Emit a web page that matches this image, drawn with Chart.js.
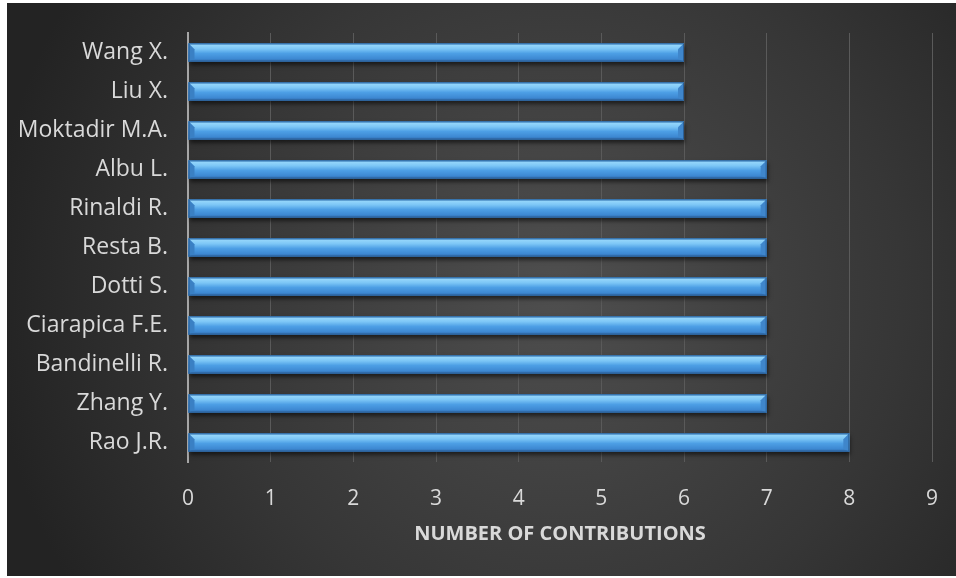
<!DOCTYPE html>
<html>
<head>
<meta charset="utf-8">
<script src="https://cdn.jsdelivr.net/npm/chart.js@4/dist/chart.umd.min.js"></script>
<style>
    html, body { margin: 0; padding: 0; background: #ffffff; }
    #wrap { position: absolute; left: 7px; top: 3px; width: 949px; height: 573px; }
</style>
</head>
<body>
<div id="wrap"><canvas id="authorsChart"></canvas></div>
<script>
    // data
    const authors = ['Wang X.', 'Liu X.', 'Moktadir M.A.', 'Albu L.', 'Rinaldi R.', 'Resta B.',
                     'Dotti S.', 'Ciarapica F.E.', 'Bandinelli R.', 'Zhang Y.', 'Rao J.R.'];
    const contributions = [6, 6, 6, 7, 7, 7, 7, 7, 7, 7, 8];
    const xTicks = [0, 1, 2, 3, 4, 5, 6, 7, 8, 9];
    const xTitle = 'NUMBER OF CONTRIBUTIONS';

    const textColor = '#d9d9d9';
    const fontFamily = '"Open Sans", Lato, sans-serif';

    // dark radial background
    const backgroundPlugin = {
        id: 'darkBg',
        beforeDraw(chart) {
            const { ctx, width, height } = chart;
            const g = ctx.createRadialGradient(width * 0.58, height * 0.5, 10, width * 0.58, height * 0.5, width * 0.6);
            g.addColorStop(0, '#4e4e4e');
            g.addColorStop(0.6, '#363636');
            g.addColorStop(1, '#232323');
            ctx.save();
            ctx.fillStyle = g;
            ctx.fillRect(0, 0, width, height);
            ctx.restore();
        }
    };

    // shadow under bars + bevel faces on top
    const bevelPlugin = {
        id: 'bevel',
        beforeDatasetsDraw(chart) {
            const ctx = chart.ctx;
            ctx.save();
            ctx.shadowColor = 'rgba(0,0,0,0.55)';
            ctx.shadowBlur = 4;
            ctx.shadowOffsetX = 1;
            ctx.shadowOffsetY = 3;
        },
        afterDatasetsDraw(chart) {
            const ctx = chart.ctx;
            ctx.restore();
            const meta = chart.getDatasetMeta(0);
            meta.data.forEach(bar => {
                const x0 = bar.base, x1 = bar.x;
                const top = bar.y - bar.height / 2, bot = bar.y + bar.height / 2;
                const b = 6;
                const h = bot - top;
                ctx.save();
                // body
                const g = ctx.createLinearGradient(0, top, 0, bot);
                g.addColorStop(0, '#5aa9e6');
                g.addColorStop(0.12, '#92d4fa');
                g.addColorStop(0.3, '#7cc6f6');
                g.addColorStop(0.55, '#4d9fe5');
                g.addColorStop(0.85, '#3d88d2');
                g.addColorStop(1, '#2d64a0');
                ctx.fillStyle = g;
                ctx.fillRect(x0, top, x1 - x0, h);
                // left face
                ctx.fillStyle = '#3a80c4';
                ctx.beginPath();
                ctx.moveTo(x0, top); ctx.lineTo(x0 + b, top + b); ctx.lineTo(x0 + b, bot - 3); ctx.lineTo(x0, bot);
                ctx.closePath(); ctx.fill();
                // right face
                ctx.fillStyle = '#3f86cb';
                ctx.beginPath();
                ctx.moveTo(x1, top); ctx.lineTo(x1 - b, top + b); ctx.lineTo(x1 - b, bot - 3); ctx.lineTo(x1, bot);
                ctx.closePath(); ctx.fill();
                // outline
                ctx.strokeStyle = '#2b5f95';
                ctx.lineWidth = 1;
                ctx.strokeRect(x0 + 0.5, top + 0.5, x1 - x0 - 1, h - 1);
                ctx.restore();
            });
        }
    };

    const ctx = document.getElementById('authorsChart').getContext('2d');
    const authorsChart = new Chart(ctx, {
        type: 'bar',
        data: {
            labels: authors,
            datasets: [{
                data: contributions,
                backgroundColor: '#4d9fe5',
                borderWidth: 0,
                categoryPercentage: 1,
                barPercentage: 0.47
            }]
        },
        options: {
            indexAxis: 'y',
            responsive: true,
            maintainAspectRatio: false,
            animation: false,
            layout: { padding: { top: 30, right: 24, bottom: 0, left: 0 } },
            plugins: {
                legend: { display: false },
                tooltip: { enabled: false }
            },
            scales: {
                x: {
                    min: 0,
                    max: 9,
                    afterBuildTicks(scale) {
                        scale.ticks = xTicks.map(v => ({ value: v }));
                    },
                    afterFit(scale) {
                        scale.height = 114;
                        scale.paddingLeft = 0;
                        scale.paddingRight = 0;
                    },
                    grid: { color: '#5a5a5a', lineWidth: 1, drawTicks: false },
                    border: { display: false },
                    ticks: { color: textColor, font: { family: fontFamily, size: 21 }, padding: 24 },
                    title: {
                        display: true,
                        text: xTitle,
                        color: textColor,
                        font: { family: fontFamily, size: 20, weight: 'bold' },
                        padding: { top: 0, bottom: 30 }
                    }
                },
                y: {
                    afterFit(scale) {
                        scale.width = 181;
                        scale.paddingTop = 0;
                        scale.paddingBottom = 0;
                    },
                    grid: { display: false, drawTicks: false },
                    border: { display: true, color: '#a6a6a6', width: 2 },
                    ticks: { color: textColor, font: { family: fontFamily, size: 23 }, padding: 20 }
                }
            }
        },
        plugins: [backgroundPlugin, bevelPlugin]
    });
</script>
</body>
</html>
